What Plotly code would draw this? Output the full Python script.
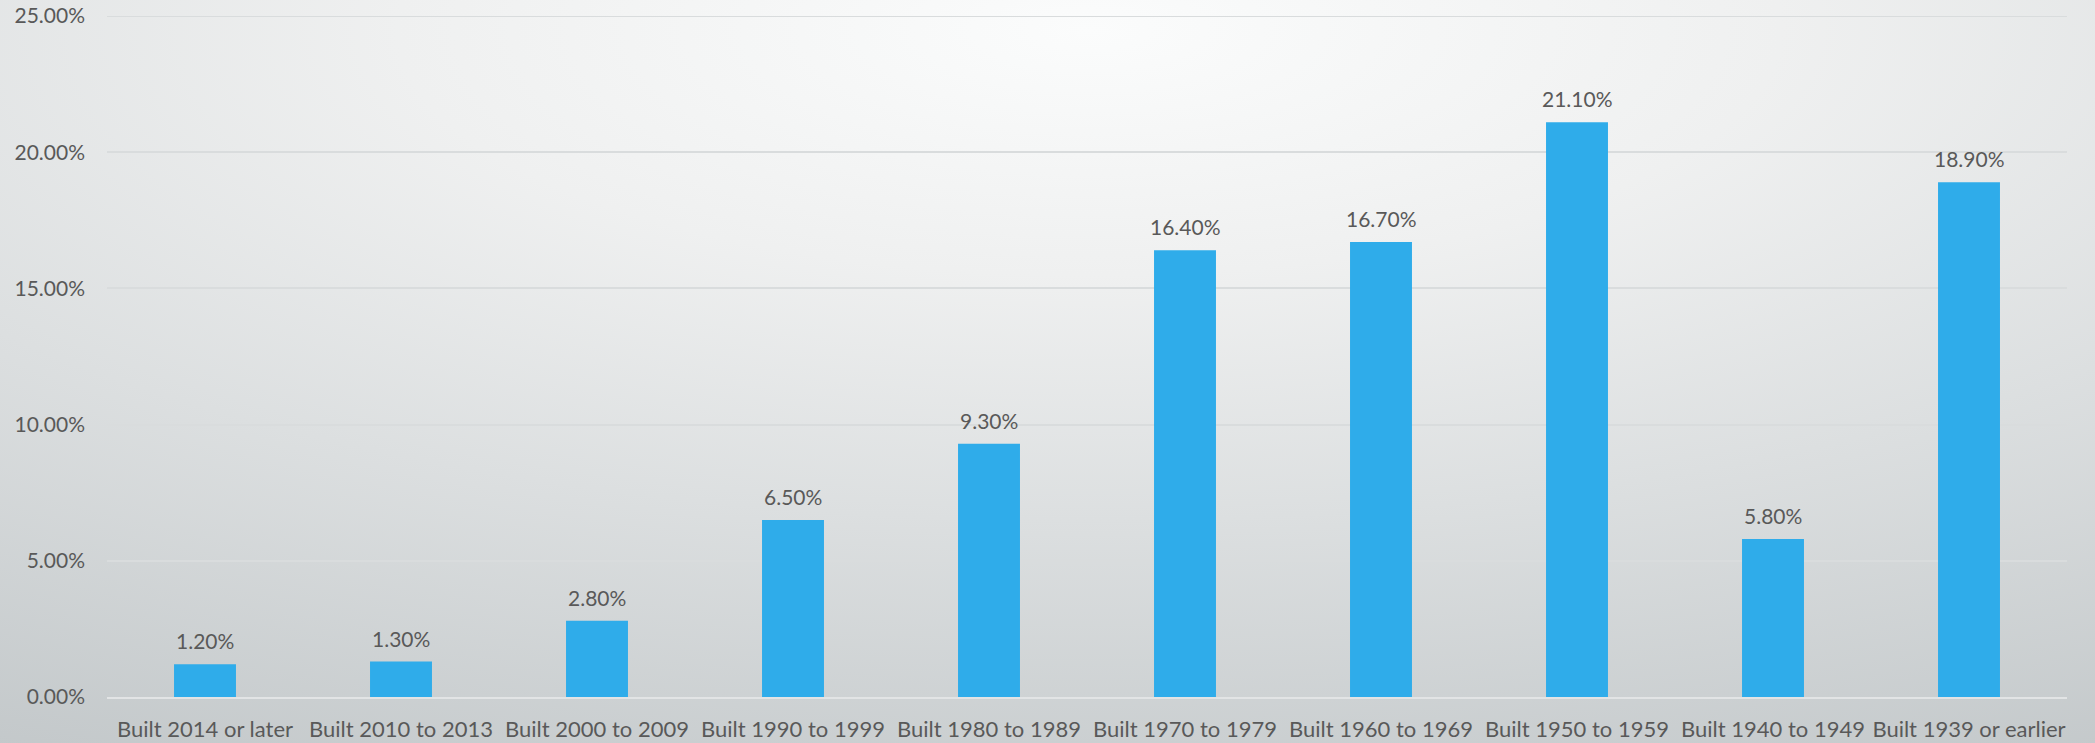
import base64
import plotly.graph_objects as go

categories = ["Built 2014 or later", "Built 2010 to 2013", "Built 2000 to 2009",
              "Built 1990 to 1999", "Built 1980 to 1989", "Built 1970 to 1979",
              "Built 1960 to 1969", "Built 1950 to 1959", "Built 1940 to 1949",
              "Built 1939 or earlier"]
values = [1.2, 1.3, 2.8, 6.5, 9.3, 16.4, 16.7, 21.1, 5.8, 18.9]
y_ticks = [0, 5, 10, 15, 20, 25]

W, H = 2095, 743
ML, MR, MT, MB = 107, 28, 16, 46
PW, PH = W - ML - MR, H - MT - MB

FONT = "Lato, 'Open Sans', sans-serif"
TXT = "#595959"
BAR = "#2FACEA"
GRID = "#d9dcdd"

svg = ('<svg xmlns="http://www.w3.org/2000/svg" width="2095" height="743" '
       'viewBox="0 0 100 100" preserveAspectRatio="none">'
       '<defs><radialGradient id="g" gradientUnits="userSpaceOnUse" cx="52" cy="4" r="110">'
       '<stop offset="0" stop-color="#fbfcfc"/>'
       '<stop offset="0.3" stop-color="#eff0f0"/>'
       '<stop offset="0.6" stop-color="#dcdfe0"/>'
       '<stop offset="1" stop-color="#c3c8ca"/>'
       '</radialGradient></defs>'
       '<rect x="0" y="0" width="100" height="100" fill="url(#g)"/></svg>')
src = "data:image/svg+xml;base64," + base64.b64encode(svg.encode()).decode()

fig = go.Figure()
fig.add_trace(go.Bar(
    x=categories, y=values, marker=dict(color=BAR, line=dict(width=0)),
    hoverinfo="x+y",
))

for c, v in zip(categories, values):
    fig.add_annotation(x=c, y=v, text=f"{v:.2f}%", showarrow=False,
                       yanchor="bottom", yshift=9,
                       font=dict(family=FONT, size=21, color=TXT))

# top gridline (plotly may skip the grid line at the very edge of the range)
fig.add_shape(type="line", xref="paper", x0=0, x1=1, yref="y",
              y0=y_ticks[-1], y1=y_ticks[-1], layer="below",
              line=dict(color=GRID, width=2))

fig.add_layout_image(dict(
    source=src, xref="paper", yref="paper",
    x=-ML / PW, y=1 + MT / PH, sizex=W / PW, sizey=H / PH,
    xanchor="left", yanchor="top", sizing="stretch", layer="below", opacity=1,
))

fig.update_layout(
    width=W, height=H,
    margin=dict(l=ML, r=MR, t=MT, b=MB, pad=0),
    paper_bgcolor="#e4e6e7",
    plot_bgcolor="rgba(0,0,0,0)",
    bargap=0.684,
    showlegend=False,
    font=dict(family=FONT, size=21, color=TXT),
    xaxis=dict(
        showgrid=False, showline=True, linecolor="#e2e4e5", linewidth=2,
        ticks="", tickfont=dict(family=FONT, size=22, color=TXT),
        ticklabelstandoff=12, automargin=False, fixedrange=True,
    ),
    yaxis=dict(
        range=[0, 25], tickvals=y_ticks,
        ticktext=[f"{t:.2f}%" for t in y_ticks],
        showgrid=True, gridcolor=GRID, gridwidth=2,
        zeroline=False, showline=False, ticks="",
        tickfont=dict(family=FONT, size=21, color=TXT),
        ticklabelstandoff=21, automargin=False, fixedrange=True,
    ),
)

fig.write_html("out.html", config={"displayModeBar": False},
               post_script="document.body.style.margin='0';document.body.style.overflow='hidden';")
